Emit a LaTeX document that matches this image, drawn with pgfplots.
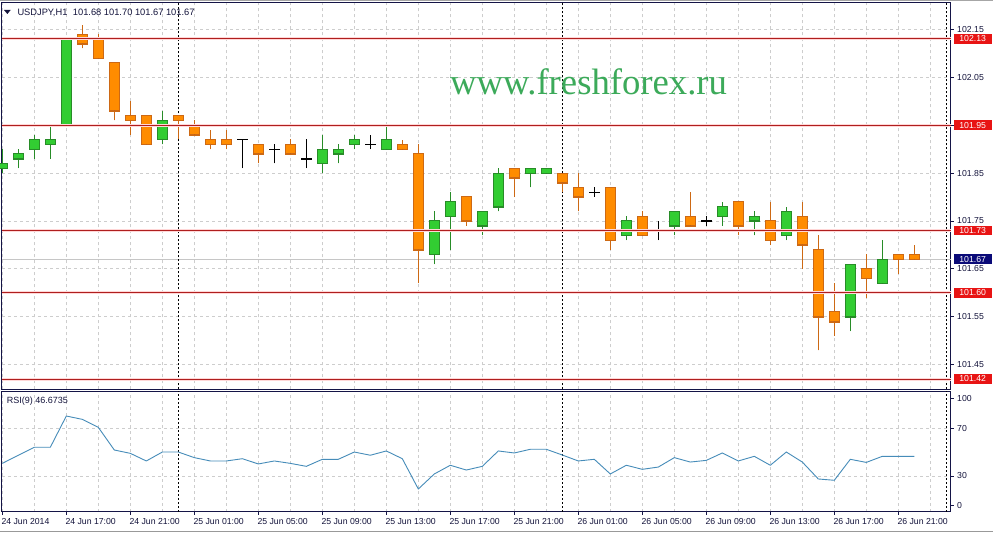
\documentclass[border=0pt]{standalone}
\usepackage{pgfplots}
\pgfplotsset{compat=1.18}
\usepackage{pgfplotstable}
\usepackage{fontspec}
\setmainfont{Liberation Sans}
\newfontfamily\wmfont{Liberation Serif}

\definecolor{bullfill}{RGB}{50,205,50}
\definecolor{bulledge}{RGB}{40,140,40}
\definecolor{bearfill}{RGB}{255,140,0}
\definecolor{bearedge}{RGB}{205,105,20}
\definecolor{lvl}{RGB}{175,30,30}
\definecolor{lvlhalo}{RGB}{255,215,215}
\definecolor{lbl}{RGB}{232,20,20}
\definecolor{navyl}{RGB}{10,10,120}
\definecolor{axc}{RGB}{20,20,70}
\definecolor{gridc}{RGB}{205,205,205}
\definecolor{rsic}{RGB}{70,140,185}
\definecolor{wm}{RGB}{60,170,90}
\definecolor{txt}{RGB}{20,20,60}

% bullish candles (close > open)
\pgfplotstableread{
k O H L C
0 101.86 101.90 101.85 101.87
1 101.88 101.90 101.86 101.89
2 101.90 101.93 101.88 101.92
3 101.91 101.95 101.88 101.92
4 101.95 102.13 101.95 102.13
10 101.92 101.98 101.91 101.96
20 101.87 101.93 101.85 101.90
21 101.89 101.91 101.87 101.90
22 101.91 101.93 101.90 101.92
24 101.90 101.95 101.90 101.92
27 101.68 101.77 101.66 101.75
28 101.76 101.81 101.69 101.79
30 101.74 101.77 101.72 101.77
31 101.78 101.86 101.77 101.85
33 101.85 101.86 101.82 101.86
34 101.85 101.86 101.85 101.86
39 101.72 101.76 101.71 101.75
42 101.74 101.77 101.72 101.77
45 101.76 101.79 101.74 101.78
47 101.75 101.77 101.72 101.76
49 101.72 101.78 101.71 101.77
53 101.55 101.66 101.52 101.66
55 101.62 101.71 101.62 101.67
}\bull

% bearish candles (close < open)
\pgfplotstableread{
k O H L C
5 102.14 102.16 102.11 102.12
6 102.13 102.14 102.09 102.09
7 102.08 102.08 101.96 101.98
8 101.97 102.00 101.93 101.96
9 101.97 101.97 101.91 101.91
11 101.97 101.97 101.92 101.96
12 101.95 101.96 101.93 101.93
13 101.92 101.94 101.90 101.91
14 101.92 101.94 101.90 101.91
16 101.91 101.91 101.87 101.89
18 101.91 101.92 101.89 101.89
25 101.91 101.92 101.90 101.90
26 101.89 101.91 101.62 101.69
29 101.80 101.80 101.74 101.75
32 101.86 101.86 101.80 101.84
35 101.85 101.85 101.81 101.83
36 101.82 101.85 101.77 101.80
38 101.82 101.82 101.69 101.71
40 101.76 101.77 101.72 101.72
43 101.76 101.81 101.74 101.74
46 101.79 101.79 101.72 101.74
48 101.75 101.79 101.70 101.71
50 101.76 101.79 101.65 101.70
51 101.69 101.72 101.48 101.55
52 101.56 101.62 101.51 101.54
54 101.65 101.68 101.59 101.63
56 101.68 101.68 101.64 101.67
57 101.68 101.70 101.67 101.67
}\bear

% doji candles (close = open)
\pgfplotstableread{
k O H L C
15 101.92 101.92 101.86 101.92
17 101.90 101.91 101.87 101.90
19 101.88 101.92 101.86 101.88
23 101.91 101.93 101.90 101.91
37 101.81 101.82 101.80 101.81
41 101.73 101.75 101.71 101.73
44 101.75 101.76 101.74 101.75
}\doji

\pgfplotstableread{
k r
0 40.6
1 47.4
2 54.1
3 54.1
4 80.3
5 77.5
6 70.8
7 51.8
8 49.0
9 42.6
10 50.1
11 50.1
12 45.4
13 42.6
14 42.6
15 44.5
16 40.1
17 42.6
18 40.6
19 38.1
20 44.0
21 44.0
22 50.1
23 47.4
24 51.0
25 44.5
26 19.1
27 31.7
28 39.0
29 35.0
30 38.1
31 51.0
32 49.3
33 52.4
34 52.4
35 47.6
36 42.6
37 44.0
38 31.7
39 39.0
40 35.6
41 37.5
42 45.4
43 41.7
44 43.1
45 49.3
46 42.6
47 46.5
48 39.0
49 50.1
50 41.7
51 27.5
52 26.4
53 44.0
54 41.4
55 46.5
56 46.5
57 46.5
}\rsi

\pgfplotsset{
  mtgrid/.style={gridc, line width=0.8pt, dash pattern=on 3pt off 3pt},
  sep/.style={black, line width=0.8pt, dash pattern=on 2pt off 2pt},
  ebar/.style={only marks, no markers, mark size=0pt, mark options={draw=none, fill=none}, forget plot,
    error bars/.cd, y dir=both, y explicit, error mark=none,
    error bar style={#1, line cap=butt}},
  lvlline/.style={lvlhalo, line width=3pt, forget plot},
  lvlcore/.style={lvl, line width=1pt, forget plot},
}
\tikzset{
  pricebox/.style={fill=#1, text=white, anchor=west, inner sep=0pt,
    minimum width=38.4pt, minimum height=9.6pt, font=\fontsize{8.7}{10}\selectfont, xshift=2.6pt},
}

\begin{document}
\begin{tikzpicture}[x=1pt,y=1pt]
\useasboundingbox (0,0) rectangle (993,533);
\fill[white] (0,0) rectangle (993,533);
\draw[gray!70, line width=0.8pt] (0,532.2) -- (993,532.2);
\draw[gray!80, line width=1pt] (0,1.2) -- (993,1.2);

% ---------------- main price panel ----------------
\begin{axis}[
  at={(2pt,143.7pt)}, anchor=south west, scale only axis,
  width=948.7pt, height=386.6pt,
  xmin=-0.02, xmax=59.275, ymin=101.3985, ymax=102.2056,
  clip=false,
  axis line style={axc, line width=1pt},
  xtick={0,4,...,56}, minor xtick={2,6,...,58}, xticklabels={},
  xtick style={draw=none}, minor x tick style={draw=none},
  ytick={101.45,101.55,101.65,101.75,101.85,101.95,102.05,102.15},
  yticklabels={101.45,101.55,101.65,101.75,101.85,{},102.05,102.15},
  ytick pos=right, yticklabel pos=right,
  tick align=outside, major tick length=3pt,
  ytick style={axc, line width=0.8pt},
  grid=both, major grid style={mtgrid}, minor grid style={mtgrid},
  yticklabel style={font=\fontsize{8.7}{10}\selectfont, text=txt},
]
% bid line
\addplot[gray!45, line width=1pt, forget plot] coordinates {(-0.02,101.67) (59.275,101.67)};
% day separators
\addplot[sep, forget plot] coordinates {(11,101.3985) (11,102.2056)};
\addplot[sep, forget plot] coordinates {(35,101.3985) (35,102.2056)};
\addplot[sep, forget plot] coordinates {(59,101.3985) (59,102.2056)};
% wicks
\addplot[ebar={bulledge, line width=1pt}] table[x=k, y=L, y error plus expr={\thisrow{H}-\thisrow{L}}, y error minus expr={0}] {\bull};
\addplot[ebar={bearedge, line width=1pt}] table[x=k, y=L, y error plus expr={\thisrow{H}-\thisrow{L}}, y error minus expr={0}] {\bear};
\addplot[ebar={black, line width=1pt}] table[x=k, y=L, y error plus expr={\thisrow{H}-\thisrow{L}}, y error minus expr={0}] {\doji};
% bodies: outline then fill
\addplot[ebar={bulledge, line width=10.6pt}] table[x=k, y=O, y error plus expr={\thisrow{C}-\thisrow{O}+0.00104}, y error minus expr={0.00104}] {\bull};
\addplot[ebar={bullfill, line width=8.6pt}] table[x=k, y expr={\thisrow{O}+0.00104}, y error plus expr={\thisrow{C}-\thisrow{O}-0.00208}, y error minus expr={0}] {\bull};
\addplot[ebar={bearedge, line width=10.6pt}] table[x=k, y=C, y error plus expr={\thisrow{O}-\thisrow{C}+0.00104}, y error minus expr={0.00104}] {\bear};
\addplot[ebar={bearfill, line width=8.6pt}] table[x=k, y expr={\thisrow{C}+0.00104}, y error plus expr={\thisrow{O}-\thisrow{C}-0.00208}, y error minus expr={0}] {\bear};
\addplot[ebar={black, line width=10.6pt}] table[x=k, y=O, y error plus expr={0.00104}, y error minus expr={0.00104}] {\doji};
% horizontal levels
\addplot[lvlline] coordinates {(-0.02,102.13) (59.275,102.13)};
\addplot[lvlline] coordinates {(-0.02,101.95) (59.275,101.95)};
\addplot[lvlline] coordinates {(-0.02,101.73) (59.275,101.73)};
\addplot[lvlline] coordinates {(-0.02,101.60) (59.275,101.60)};
\addplot[lvlline] coordinates {(-0.02,101.42) (59.275,101.42)};
\addplot[lvlcore] coordinates {(-0.02,102.13) (59.275,102.13)};
\addplot[lvlcore] coordinates {(-0.02,101.95) (59.275,101.95)};
\addplot[lvlcore] coordinates {(-0.02,101.73) (59.275,101.73)};
\addplot[lvlcore] coordinates {(-0.02,101.60) (59.275,101.60)};
\addplot[lvlcore] coordinates {(-0.02,101.42) (59.275,101.42)};
\node[pricebox=lbl] at (axis cs:59.275,102.13) {102.13};
\node[pricebox=lbl] at (axis cs:59.275,101.95) {101.95};
\node[pricebox=lbl] at (axis cs:59.275,101.73) {101.73};
\node[pricebox=lbl] at (axis cs:59.275,101.60) {101.60};
\node[pricebox=lbl] at (axis cs:59.275,101.42) {101.42};
\node[pricebox=navyl] at (axis cs:59.275,101.67) {101.67};
\end{axis}

% ---------------- RSI panel ----------------
\begin{axis}[
  at={(2pt,21.3pt)}, anchor=south west, scale only axis,
  width=948.7pt, height=120.7pt,
  xmin=-0.02, xmax=59.275, ymin=0.06, ymax=101.28,
  clip=false,
  axis line style={axc, line width=1pt},
  xtick={0,4,...,56}, minor xtick={2,6,...,58},
  xticklabels={24 Jun 2014,24 Jun 17:00,24 Jun 21:00,25 Jun 01:00,25 Jun 05:00,25 Jun 09:00,25 Jun 13:00,25 Jun 17:00,25 Jun 21:00,26 Jun 01:00,26 Jun 05:00,26 Jun 09:00,26 Jun 13:00,26 Jun 17:00,26 Jun 21:00},
  xtick pos=bottom, ytick pos=right, yticklabel pos=right,
  tick align=outside, major tick length=3pt, minor tick length=0pt,
  tick style={axc, line width=0.8pt},
  ytick={30,70}, yticklabels={30,70},
  extra y ticks={5.1,95.2}, extra y tick labels={0,100},
  extra y tick style={grid=none},
  grid=both, major grid style={mtgrid}, minor grid style={mtgrid},
  yticklabel style={font=\fontsize{8.7}{10}\selectfont, text=txt},
  xticklabel style={font=\fontsize{8.7}{10}\selectfont, text=txt, anchor=north west, inner sep=0pt, xshift=-1pt, yshift=-3.5pt},
]
\addplot[sep, forget plot] coordinates {(11,0.06) (11,101.28)};
\addplot[sep, forget plot] coordinates {(35,0.06) (35,101.28)};
\addplot[sep, forget plot] coordinates {(59,0.06) (59,101.28)};
\addplot[rsic, line width=0.9pt] table[x=k, y=r] {\rsi};
\end{axis}

% ---------------- texts ----------------
\fill[txt] (4,523) -- (10.7,523) -- (7.35,519) -- cycle;
\node[anchor=base west, inner sep=0pt, text=txt, font=\fontsize{9.3}{11}\selectfont] at (17.3,517.5)
  {USDJPY,H1\hspace{5.5pt}101.68 101.70 101.67 101.67};
\node[anchor=base west, inner sep=0pt, text=txt, font=\fontsize{9}{11}\selectfont] at (6.7,129)
  {RSI(9) 46.6735};
\node[anchor=base west, inner sep=0pt, text=wm, font=\wmfont\fontsize{36.7}{42}\selectfont] at (450,438)
  {www.freshforex.ru};
\end{tikzpicture}
\end{document}
